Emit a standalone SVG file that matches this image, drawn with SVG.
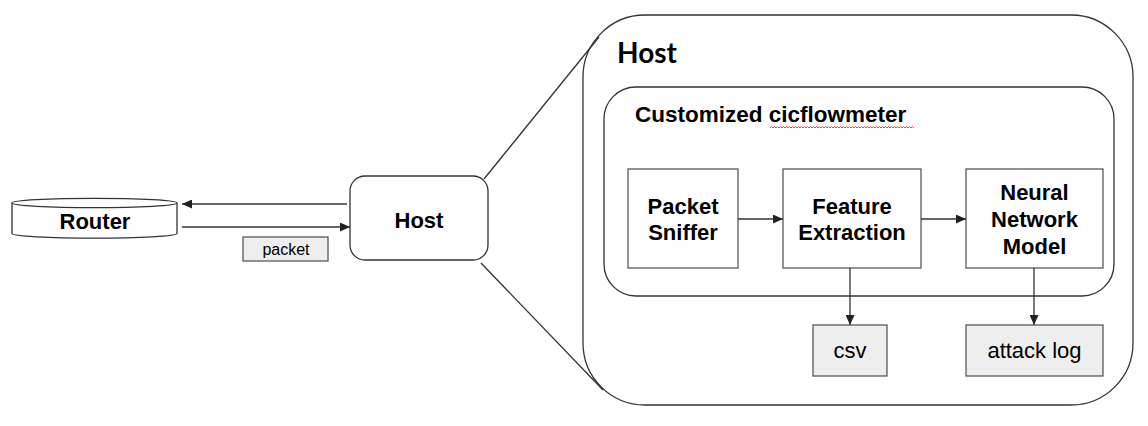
<svg xmlns="http://www.w3.org/2000/svg" width="1148" height="426" viewBox="0 0 1148 426">
<style>
.bg{fill:#fff}
.round{fill:#fff;stroke:#333;stroke-width:1.3}
.box{fill:#fff;stroke:#595959;stroke-width:1.3}
.gbox{fill:#eeeeee;stroke:#595959;stroke-width:1.3}
.lbl{font-family:"Liberation Sans",Arial,sans-serif;font-weight:bold;font-size:22px;fill:#000;text-anchor:middle}
.plain{font-family:"Liberation Sans",Arial,sans-serif;font-size:22px;fill:#000;text-anchor:middle}
.conn{fill:none;stroke:#333;stroke-width:1.3}
.arr{fill:none;stroke:#333;stroke-width:1.3;marker-end:url(#ah)}
</style>
<defs>
<marker id="ah" markerUnits="userSpaceOnUse" markerWidth="11" markerHeight="9" refX="10" refY="4.5" orient="auto">
<path d="M0,0 L10,4.5 L0,9 z" fill="#222"/>
</marker>
</defs>
<rect class="bg" x="0" y="0" width="1148" height="426"/>

<g id="router">
<path class="round" d="M12,203 L12,233.5 A82.5,4.7 0 0 0 177,233.5 L177,203"/>
<ellipse class="round" cx="94.5" cy="203" rx="82.5" ry="4.7"/>
<text class="lbl" x="95" y="229">Router</text>
</g>

<g id="host-small">
<rect class="round" x="350" y="176" width="138" height="84" rx="15"/>
<text class="lbl" x="419" y="228">Host</text>
</g>

<g id="packet-label">
<rect class="gbox" x="243" y="237" width="85" height="24"/>
<text class="plain" style="font-size:16px" x="286" y="255">packet</text>
</g>

<g id="host-big">
<rect class="round" x="583" y="15" width="550" height="390" rx="62"/>
<text x="617" y="63" style="font-family:Lato,'Liberation Sans',sans-serif;font-weight:bold;font-size:28px;fill:#000">Host</text>
</g>

<g id="cicflowmeter">
<rect class="round" x="604" y="87" width="510" height="209" rx="32"/>
<text x="635" y="122" style="font-family:'Liberation Sans',Arial,sans-serif;font-weight:bold;font-size:22.5px;fill:#000">Customized cicflowmeter</text>
<path fill="none" stroke="#e03030" stroke-width="0.9" d="M770 128 l1.5 -1.5 l1.5 1.5 l1.5 -1.5 l1.5 1.5 l1.5 -1.5 l1.5 1.5 l1.5 -1.5 l1.5 1.5 l1.5 -1.5 l1.5 1.5 l1.5 -1.5 l1.5 1.5 l1.5 -1.5 l1.5 1.5 l1.5 -1.5 l1.5 1.5 l1.5 -1.5 l1.5 1.5 l1.5 -1.5 l1.5 1.5 l1.5 -1.5 l1.5 1.5 l1.5 -1.5 l1.5 1.5 l1.5 -1.5 l1.5 1.5 l1.5 -1.5 l1.5 1.5 l1.5 -1.5 l1.5 1.5 l1.5 -1.5 l1.5 1.5 l1.5 -1.5 l1.5 1.5 l1.5 -1.5 l1.5 1.5 l1.5 -1.5 l1.5 1.5 l1.5 -1.5 l1.5 1.5 l1.5 -1.5 l1.5 1.5 l1.5 -1.5 l1.5 1.5 l1.5 -1.5 l1.5 1.5 l1.5 -1.5 l1.5 1.5 l1.5 -1.5 l1.5 1.5 l1.5 -1.5 l1.5 1.5 l1.5 -1.5 l1.5 1.5 l1.5 -1.5 l1.5 1.5 l1.5 -1.5 l1.5 1.5 l1.5 -1.5 l1.5 1.5 l1.5 -1.5 l1.5 1.5 l1.5 -1.5 l1.5 1.5 l1.5 -1.5 l1.5 1.5 l1.5 -1.5 l1.5 1.5 l1.5 -1.5 l1.5 1.5 l1.5 -1.5 l1.5 1.5 l1.5 -1.5 l1.5 1.5 l1.5 -1.5 l1.5 1.5 l1.5 -1.5 l1.5 1.5 l1.5 -1.5 l1.5 1.5 l1.5 -1.5 l1.5 1.5 l1.5 -1.5 l1.5 1.5 l1.5 -1.5 l1.5 1.5 l1.5 -1.5 l1.5 1.5 l1.5 -1.5 l1.5 1.5 l1.5 -1.5 l1.5 1.5 l1.5 -1.5 l1.5 1.5 l1.5 -1.5 l1.5 1.5"/>
</g>

<g id="packet-sniffer">
<rect class="box" x="628" y="169" width="110" height="99"/>
<text class="lbl" x="683" y="214">Packet</text>
<text class="lbl" x="683" y="240">Sniffer</text>
</g>

<g id="feature-extraction">
<rect class="box" x="783" y="169" width="138" height="99"/>
<text class="lbl" x="852" y="214">Feature</text>
<text class="lbl" x="852" y="240">Extraction</text>
</g>

<g id="neural-network">
<rect class="box" x="966" y="169" width="137" height="99"/>
<text class="lbl" x="1034.5" y="200">Neural</text>
<text class="lbl" x="1034.5" y="227">Network</text>
<text class="lbl" x="1034.5" y="254">Model</text>
</g>

<g id="csv">
<rect class="gbox" x="813" y="325" width="74" height="51"/>
<text class="plain" x="850" y="358">csv</text>
</g>

<g id="attack-log">
<rect class="gbox" x="966" y="325" width="137" height="51"/>
<text class="plain" x="1034.5" y="358">attack log</text>
</g>

<g id="connectors">
<line class="arr" x1="347" y1="204" x2="182" y2="204"/>
<line class="arr" x1="182" y1="227" x2="350" y2="227"/>
<line class="conn" x1="484" y1="179" x2="599" y2="37"/>
<line class="conn" x1="481" y1="263" x2="603" y2="390"/>
<line class="arr" x1="738" y1="219" x2="783" y2="219"/>
<line class="arr" x1="921" y1="219" x2="966" y2="219"/>
<line class="arr" x1="850" y1="268" x2="850" y2="325"/>
<line class="arr" x1="1034" y1="268" x2="1034" y2="325"/>
</g>
</svg>
